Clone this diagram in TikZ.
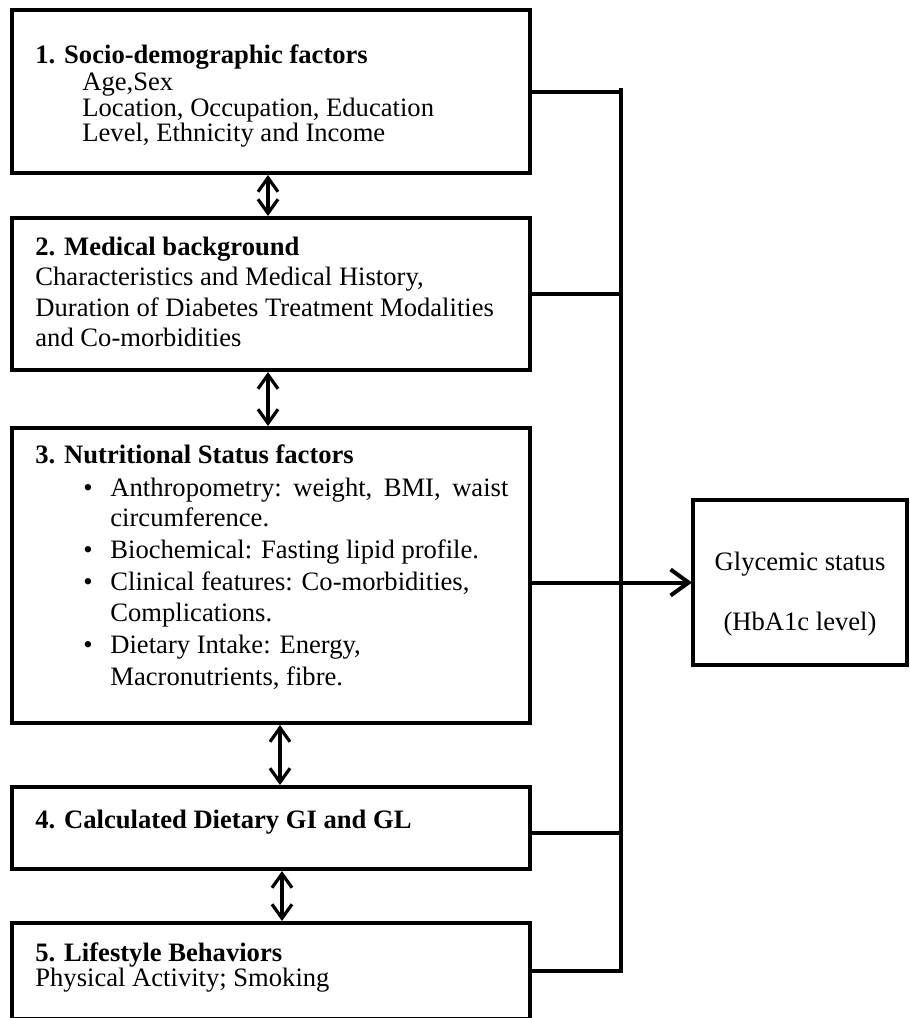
\documentclass[tikz,border=0pt]{standalone}
\usepackage{fontspec}
\setmainfont{Liberation Serif}
\usetikzlibrary{arrows.meta}
\begin{document}
\begin{tikzpicture}[x=0.5pt,y=-0.5pt,
  box/.style={draw, line width=2pt, outer sep=0pt, inner sep=0pt, anchor=north west},
  txt/.style={anchor=base west, inner sep=0pt, font=\fontsize{13.3pt}{16pt}\selectfont},
  ctxt/.style={anchor=base, inner sep=0pt, font=\fontsize{13.3pt}{16pt}\selectfont},
  dbl/.style={line width=1.6pt, shorten <=1pt, shorten >=1pt,
    {Straight Barb[length=7pt,width=10pt]}-{Straight Barb[length=7pt,width=10pt]}},
  conn/.style={line width=2pt},
  bus/.style={line width=2.2pt}]
\useasboundingbox (0,0) rectangle (910,1018);
\clip (0,0) rectangle (910,1018);
\fill[white] (0,0) rectangle (910,1018);
% boxes
\node[box, minimum width=259pt, minimum height=81.5pt] (b1) at (12,10) {};
\node[box, minimum width=259pt, minimum height=76pt] (b2) at (12,218) {};
\node[box, minimum width=259pt, minimum height=147.5pt] (b3) at (12,428) {};
\node[box, minimum width=259pt, minimum height=41pt] (b4) at (12,787) {};
\node[box, minimum width=259pt, minimum height=48pt] (b5) at (12,923) {};
\node[box, minimum width=107pt, minimum height=82.5pt] (g) at (693,500) {};
% box 1 text
\node[txt] (t1) at (35,63) {\bfseries 1. Socio-demographic factors};
\node[txt] (t1a) at (82,90) {Age,Sex};
\node[txt] (t1b) at (82,116) {Location, Occupation, Education};
\node[txt] (t1c) at (82,141) {Level, Ethnicity and Income};
% box 2 text
\node[txt] (t2) at (35,255) {\bfseries 2. Medical background};
\node[txt] (t2a) at (35,285) {Characteristics and Medical History,};
\node[txt] (t2b) at (35,316) {Duration of Diabetes Treatment Modalities};
\node[txt] (t2c) at (35,346) {and Co-morbidities};
% box 3 text
\node[txt] (t3) at (35,463) {\bfseries 3. Nutritional Status factors};
\node[txt] (p1) at (83,496) {•};
\node[txt] (t3a) at (110,496) {\hbox to 199pt{Anthropometry:\hfill weight,\hfill BMI,\hfill waist}};
\node[txt] (t3b) at (110,526) {circumference.};
\node[txt] (p2) at (83,558) {•};
\node[txt] (t3c) at (110,558) {Biochemical: Fasting lipid profile.};
\node[txt] (p3) at (83,590) {•};
\node[txt] (t3d) at (110,590) {Clinical features: Co-morbidities,};
\node[txt] (t3e) at (110,621) {Complications.};
\node[txt] (p4) at (83,653) {•};
\node[txt] (t3f) at (110,653) {Dietary Intake: Energy,};
\node[txt] (t3g) at (110,685) {Macronutrients, fibre.};
% box 4 and 5 text
\node[txt] (t4) at (35,828) {\bfseries 4. Calculated Dietary GI and GL};
\node[txt] (t5) at (35,961) {\bfseries 5. Lifestyle Behaviors};
\node[txt] (t5a) at (35,986) {Physical Activity; Smoking};
% outcome text
\node[ctxt] (g1) at (800,570) {Glycemic status};
\node[ctxt] (g2) at (800,630) {(HbA1c level)};
% double arrows between boxes
\draw[dbl] ([xshift=128pt]b1.south west) -- ([xshift=128pt]b2.north west);
\draw[dbl] ([xshift=128pt]b2.south west) -- ([xshift=128pt]b3.north west);
\draw[dbl] ([xshift=134pt]b3.south west) -- ([xshift=134pt]b4.north west);
\draw[dbl] ([xshift=135pt]b4.south west) -- ([xshift=135pt]b5.north west);
% bus and connectors
\coordinate (bt) at (621,88);
\coordinate (bb) at (621,973);
\draw[bus] (bt) -- (bb);
\draw[conn] (b1.east) -- (b1.east -| bt);
\draw[conn] (b2.east) -- (b2.east -| bt);
\draw[conn] ([yshift=-2.5pt]b4.east) -- ([yshift=-2.5pt]b4.east -| bt);
\draw[conn] (b5.east) -- (b5.east -| bt);
\draw[conn, shorten >=0.5pt, -{Straight Barb[length=9pt,width=13pt]}] (b3.east |- g.west) -- (g.west);
\end{tikzpicture}
\end{document}
